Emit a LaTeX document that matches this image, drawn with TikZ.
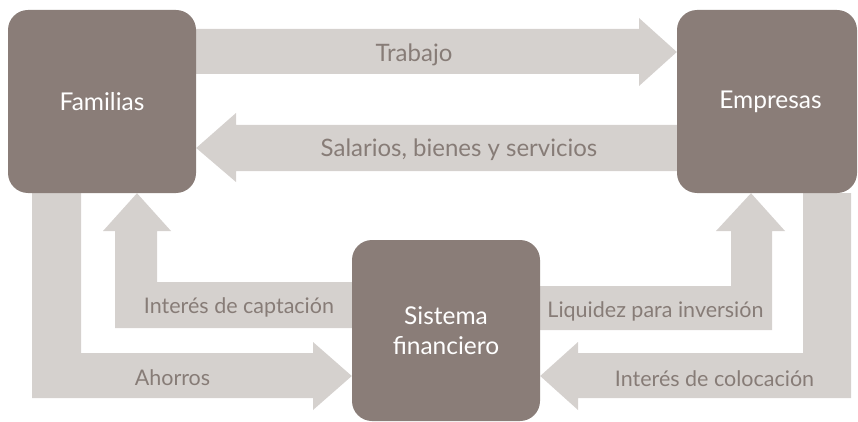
\documentclass[tikz,border=0pt]{standalone}
\usepackage{fontspec}
\setmainfont{Lato}
\definecolor{boxc}{HTML}{8A7D78}
\definecolor{arrc}{HTML}{D5D1CE}
\definecolor{txtc}{HTML}{877C77}
\pgfdeclarelayer{bg}
\pgfsetlayers{bg,main}
\begin{document}
\begin{tikzpicture}[x=1pt,y=-1pt,
  box/.style={fill=boxc, rounded corners=20pt, text=white, align=center,
    inner sep=0pt, font=\fontsize{24.5}{30}\selectfont},
  flow/.style={fill=arrc},
  lbl/.style={text=txtc, inner sep=0pt, anchor=base, font=\fontsize{21.5}{24}\selectfont},
  biglbl/.style={lbl, font=\fontsize{24}{26}\selectfont}]
\useasboundingbox (0,0) rectangle (858,422);
% boxes
\node[box, minimum width=188pt, minimum height=183pt] (fam) at (102,101.5) {Familias};
\node[box, minimum width=180pt, minimum height=183pt] (emp) at (767,101.5) {\hspace*{7pt}Empresas};
\node[box, minimum width=188pt, minimum height=181pt] (sis) at (446,330.5) {Sistema\\financiero};
% arrows
\begin{pgfonlayer}{bg}
\fill[flow] (fam.east |- 0,29) -- (639,29) -- (639,18) -- (emp.west |- 0,52) -- (639,86) -- (639,74) -- (fam.east |- 0,74) -- cycle;
\fill[flow] (emp.west |- 0,125) -- (236,125) -- (236,113) -- (fam.east |- 0,148) -- (236,182) -- (236,171) -- (emp.west |- 0,171) -- cycle;
\fill[flow] (32,193) -- (81,193) -- (81,353) -- (313,353) -- (313,342) -- (sis.west |- 0,376) -- (313,410) -- (313,398) -- (32,398) -- cycle;
\fill[flow] (sis.west |- 0,282) -- (157,282) -- (157,231) -- (171,231) -- (137,0 |- fam.south) -- (103,231) -- (115,231) -- (115,328) -- (sis.west |- 0,328) -- cycle;
\fill[flow] (sis.east |- 0,286) -- (731,286) -- (731,231) -- (716,231) -- (751,0 |- emp.south) -- (785,231) -- (772,231) -- (772,330) -- (sis.east |- 0,330) -- cycle;
\fill[flow] (803,193) -- (851,193) -- (851,398) -- (578,398) -- (578,410) -- (sis.east |- 0,376) -- (578,342) -- (578,353) -- (803,353) -- cycle;
\end{pgfonlayer}
% labels
\node[biglbl] (l1) at (414,62) {Trabajo};
\node[biglbl] (l2) at (459,157) {Salarios, bienes y servicios};
\node[lbl] (l3) at (239,313) {Interés de captación};
\node[lbl] (l4) at (172.5,385) {Ahorros};
\node[lbl] (l5) at (655.5,317) {Liquidez para inversión};
\node[lbl] (l6) at (714.5,386) {Interés de colocación};
\end{tikzpicture}
\end{document}
